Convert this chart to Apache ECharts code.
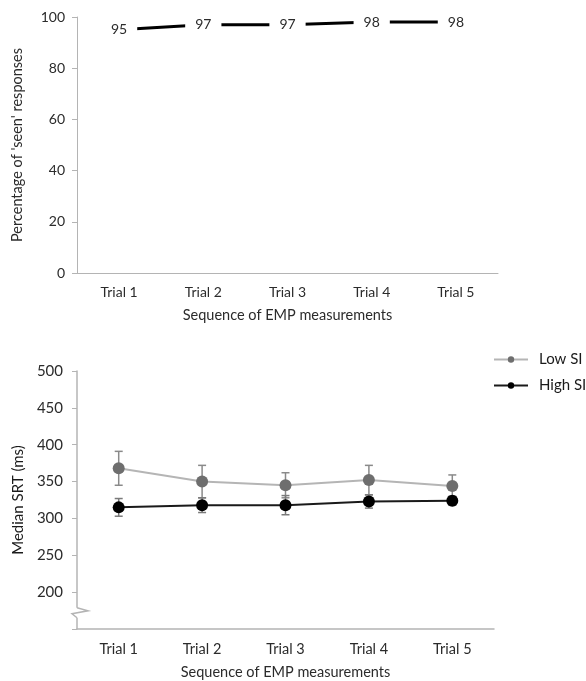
<!DOCTYPE html>
<html>
<head>
<meta charset="utf-8">
<script src="https://cdn.jsdelivr.net/npm/echarts@6/dist/echarts.min.js"></script>
<style>
  html, body { margin: 0; padding: 0; background: #fff; }
  #chart { width: 586px; height: 681px; }
</style>
</head>
<body>
<div id="chart"></div>
<script>
// Trials on both panels
const trials = ['Trial 1', 'Trial 2', 'Trial 3', 'Trial 4', 'Trial 5'];

// Upper panel: percentage of 'seen' responses
const seenPct = [95, 97, 97, 98, 98];
const pctTicks = { min: 0, max: 100, interval: 20 };

// Lower panel: median saccadic reaction time (ms) with error bars
const lowSI = [368, 350, 345, 352, 344];
const lowSIErr = [23, 22, 17, 20, 15];
const highSI = [315, 318, 318, 323, 324];
const highSIErr = [12, 10, 13, 9, 6];
const srtTicks = { min: 150, max: 500, interval: 50 };
const srtBreakValue = 172;

const FONT = 'Lato, "Open Sans", sans-serif';
const AXIS_COLOR = '#b4b4b4';
const TEXT_COLOR = '#2b2b2b';

function errorBarSeries(name, means, errs, color) {
  return {
    name: name,
    type: 'custom',
    xAxisIndex: 1,
    yAxisIndex: 1,
    z: 1,
    silent: true,
    encode: { x: 0, y: 1 },
    data: means.map((m, i) => [i, m, errs[i]]),
    renderItem: function (params, api) {
      const x = api.value(0), m = api.value(1), e = api.value(2);
      const top = api.coord([x, m + e]);
      const bot = api.coord([x, m - e]);
      const cap = 4;
      const style = { stroke: color, lineWidth: 1.5 };
      return {
        type: 'group',
        children: [
          { type: 'line', shape: { x1: top[0], y1: top[1], x2: bot[0], y2: bot[1] }, style },
          { type: 'line', shape: { x1: top[0] - cap, y1: top[1], x2: top[0] + cap, y2: top[1] }, style },
          { type: 'line', shape: { x1: bot[0] - cap, y1: bot[1], x2: bot[0] + cap, y2: bot[1] }, style }
        ]
      };
    }
  };
}

const chart = echarts.init(document.getElementById('chart'), null, { renderer: 'canvas' });

const option = {
  animation: false,
  backgroundColor: '#fff',
  textStyle: { fontFamily: FONT },
  grid: [
    { left: 77, top: 17, width: 421, height: 256 },
    { left: 77, top: 371, width: 417, height: 259 }
  ],
  legend: {
    orient: 'vertical',
    left: 488,
    top: 347,
    itemWidth: 34,
    itemHeight: 8,
    itemGap: 11,
    textStyle: { fontFamily: FONT, fontSize: 15, color: '#1a1a1a', padding: [0, 0, 0, 6] },
    data: ['Low SI', 'High SI']
  },
  xAxis: [
    {
      gridIndex: 0,
      type: 'category',
      data: trials,
      boundaryGap: true,
      axisLine: { lineStyle: { color: AXIS_COLOR, width: 1 } },
      axisTick: { show: false },
      axisLabel: { color: TEXT_COLOR, fontSize: 14, margin: 12, fontFamily: FONT },
      name: 'Sequence of EMP measurements',
      nameLocation: 'middle',
      nameGap: 35,
      nameTextStyle: { color: TEXT_COLOR, fontSize: 14.5, fontFamily: FONT }
    },
    {
      gridIndex: 1,
      type: 'category',
      data: trials,
      boundaryGap: true,
      axisLine: { lineStyle: { color: AXIS_COLOR, width: 1.5 } },
      axisTick: { show: false },
      axisLabel: { color: TEXT_COLOR, fontSize: 14.5, margin: 13, fontFamily: FONT },
      name: 'Sequence of EMP measurements',
      nameLocation: 'middle',
      nameGap: 36,
      nameTextStyle: { color: TEXT_COLOR, fontSize: 14.5, fontFamily: FONT }
    }
  ],
  yAxis: [
    {
      gridIndex: 0,
      type: 'value',
      min: pctTicks.min,
      max: pctTicks.max,
      interval: pctTicks.interval,
      axisLine: { show: true, lineStyle: { color: AXIS_COLOR, width: 1 } },
      axisTick: { show: true, length: 5, lineStyle: { color: AXIS_COLOR } },
      splitLine: { show: false },
      axisLabel: { color: TEXT_COLOR, fontSize: 14, margin: 12, fontFamily: FONT },
      name: "Percentage of 'seen' responses",
      nameLocation: 'middle',
      nameGap: 52,
      nameTextStyle: { color: TEXT_COLOR, fontSize: 14.5, fontFamily: FONT }
    },
    {
      gridIndex: 1,
      type: 'value',
      min: srtTicks.min,
      max: srtTicks.max,
      interval: srtTicks.interval,
      axisLine: { show: true, lineStyle: { color: AXIS_COLOR, width: 1.5 } },
      axisTick: {
        show: true, length: 5, lineStyle: { color: AXIS_COLOR },
        interval: function (idx, val) { return Number(val) !== srtTicks.min; }
      },
      splitLine: { show: false },
      axisLabel: {
        color: TEXT_COLOR, fontSize: 15, margin: 14, fontFamily: FONT,
        formatter: function (v) { return v === srtTicks.min ? '' : String(v); }
      },
      name: 'Median SRT (ms)',
      nameLocation: 'middle',
      nameGap: 51,
      nameTextStyle: { color: '#1a1a1a', fontSize: 15, fontFamily: FONT }
    }
  ],
  series: [
    {
      name: 'Seen',
      type: 'line',
      xAxisIndex: 0,
      yAxisIndex: 0,
      z: 2,
      data: seenPct,
      symbol: 'none',
      lineStyle: { color: '#000', width: 3 }
    },
    {
      // value labels sitting on the line, masking it with a white box
      name: 'Seen labels',
      type: 'custom',
      xAxisIndex: 0,
      yAxisIndex: 0,
      z: 5,
      silent: true,
      encode: { x: 0, y: 1 },
      data: seenPct.map((v, i) => [i, v]),
      renderItem: function (params, api) {
        const p = api.coord([api.value(0), api.value(1)]);
        return {
          type: 'text',
          x: p[0],
          y: p[1],
          z2: 10,
          style: {
            text: String(api.value(1)),
            fill: TEXT_COLOR,
            font: '14px ' + FONT,
            align: 'center',
            verticalAlign: 'middle',
            backgroundColor: '#fff',
            padding: [2, 10]
          }
        };
      }
    },
    errorBarSeries('Low SI error', lowSI, lowSIErr, '#8a8a8a'),
    errorBarSeries('High SI error', highSI, highSIErr, '#7a7a7a'),
    {
      name: 'Low SI',
      type: 'line',
      xAxisIndex: 1,
      yAxisIndex: 1,
      z: 3,
      data: lowSI,
      symbol: 'circle',
      symbolSize: 12,
      itemStyle: { color: '#6e6e6e' },
      lineStyle: { color: '#b5b5b5', width: 2 }
    },
    {
      name: 'High SI',
      type: 'line',
      xAxisIndex: 1,
      yAxisIndex: 1,
      z: 4,
      data: highSI,
      symbol: 'circle',
      symbolSize: 12,
      itemStyle: { color: '#000' },
      lineStyle: { color: '#1a1a1a', width: 2 }
    }
  ]
};

chart.setOption(option);

// Axis break marker on the lower value axis
const gridRect = chart.getModel().getComponent('grid', 1).coordinateSystem.getRect();
const bx = gridRect.x;
const by = chart.convertToPixel({ yAxisIndex: 1 }, srtBreakValue);
chart.setOption({
  graphic: [
    {
      type: 'rect',
      shape: { x: bx - 2, y: by - 5, width: 4, height: 10 },
      style: { fill: '#fff' },
      z: 100
    },
    {
      type: 'polyline',
      shape: { points: [[bx, by - 5], [bx + 11, by - 2], [bx - 5, by + 1], [bx, by + 5]] },
      style: { stroke: AXIS_COLOR, lineWidth: 1.5, fill: null },
      z: 101
    }
  ]
});
</script>
</body>
</html>
